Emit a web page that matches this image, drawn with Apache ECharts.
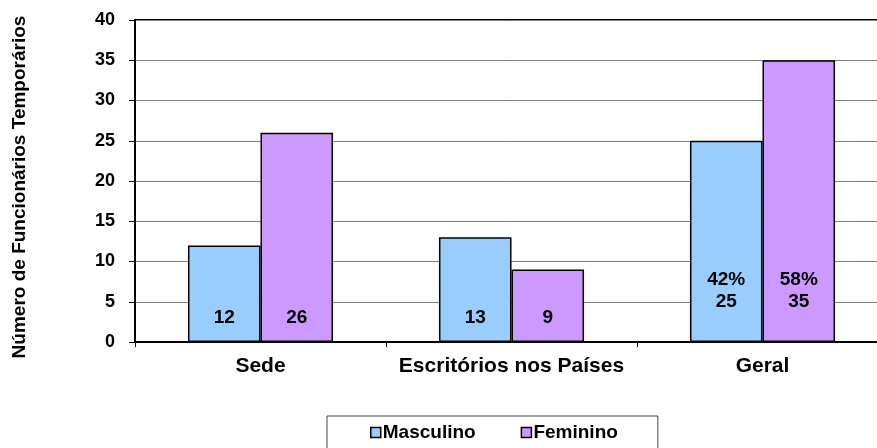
<!DOCTYPE html>
<html>
<head>
<meta charset="utf-8">
<script src="https://cdn.jsdelivr.net/npm/echarts@6/dist/echarts.min.js"></script>
<style>
  html, body { margin: 0; padding: 0; background: #fff; }
  #chart { width: 877px; height: 448px; }
</style>
</head>
<body>
<div id="chart"></div>
<script>
var categories = ['Sede', 'Escritórios nos Países', 'Geral'];
var masculino = [12, 13, 25];
var feminino = [26, 9, 35];
var masculinoPct = ['', '', '42%'];
var femininoPct = ['', '', '58%'];
var yTicks = [0, 5, 10, 15, 20, 25, 30, 35, 40];

var chart = echarts.init(document.getElementById('chart'));
var font = 'Liberation Sans, Arial, sans-serif';

function labelFor(pct) {
    return {
        show: true,
        position: 'insideBottom',
        distance: 13,
        color: '#000',
        fontFamily: font,
        fontWeight: 'bold',
        fontSize: 19,
        lineHeight: 22,
        formatter: function (p) {
            var t = pct[p.dataIndex];
            return t ? t + '\n' + p.value : '' + p.value;
        }
    };
}

function buildData(values, pct) {
    return values.map(function (v, i) {
        var item = { value: v };
        if (pct[i]) item.label = { distance: 29 };
        return item;
    });
}

var option = {
    animation: false,
    grid: {
        left: 135, width: 753, top: 20, bottom: 106,
        outerBoundsMode: 'none',
        show: true, borderColor: '#000', borderWidth: 2
    },
    legend: {
        left: 327, top: 416,
        data: ['Masculino', 'Feminino'],
        icon: 'rect',
        itemWidth: 10, itemHeight: 10,
        itemGap: 45,
        padding: [7, 40, 14, 43],
        borderColor: '#444', borderWidth: 1,
        textStyle: { fontFamily: font, fontWeight: 'bold', fontSize: 19, color: '#000', padding: [0, 0, 0, -3] },
        itemStyle: { borderColor: '#000', borderWidth: 1.5 }
    },
    xAxis: {
        type: 'category',
        data: categories,
        axisLine: { lineStyle: { color: '#000', width: 2 } },
        axisTick: { show: true, length: 5, lineStyle: { color: '#000' } },
        axisLabel: { interval: 0, fontFamily: font, fontWeight: 'bold', fontSize: 21, color: '#000', margin: 14 }
    },
    yAxis: {
        type: 'value',
        min: yTicks[0], max: yTicks[yTicks.length - 1], interval: 5,
        name: 'Número de Funcionários Temporários',
        nameLocation: 'middle',
        nameGap: 106,
        nameTextStyle: { fontFamily: font, fontWeight: 'bold', fontSize: 19, color: '#000', padding: [0, 12, 0, 0] },
        axisLine: { show: true, lineStyle: { color: '#000', width: 2 } },
        axisTick: { show: true, length: 6, lineStyle: { color: '#000' } },
        axisLabel: { fontFamily: font, fontWeight: 'bold', fontSize: 18, color: '#000', margin: 20 },
        splitLine: { lineStyle: { color: '#808080', width: 1 } }
    },
    series: [
        {
            name: 'Masculino', type: 'bar',
            data: buildData(masculino, masculinoPct),
            barWidth: '28.9%', barGap: '0%',
            itemStyle: { color: '#99CCFF', borderColor: '#000', borderWidth: 1.5 },
            label: labelFor(masculinoPct)
        },
        {
            name: 'Feminino', type: 'bar',
            data: buildData(feminino, femininoPct),
            barWidth: '28.9%',
            itemStyle: { color: '#CC99FF', borderColor: '#000', borderWidth: 1.5 },
            label: labelFor(femininoPct)
        }
    ]
};
chart.setOption(option);
</script>
</body>
</html>
